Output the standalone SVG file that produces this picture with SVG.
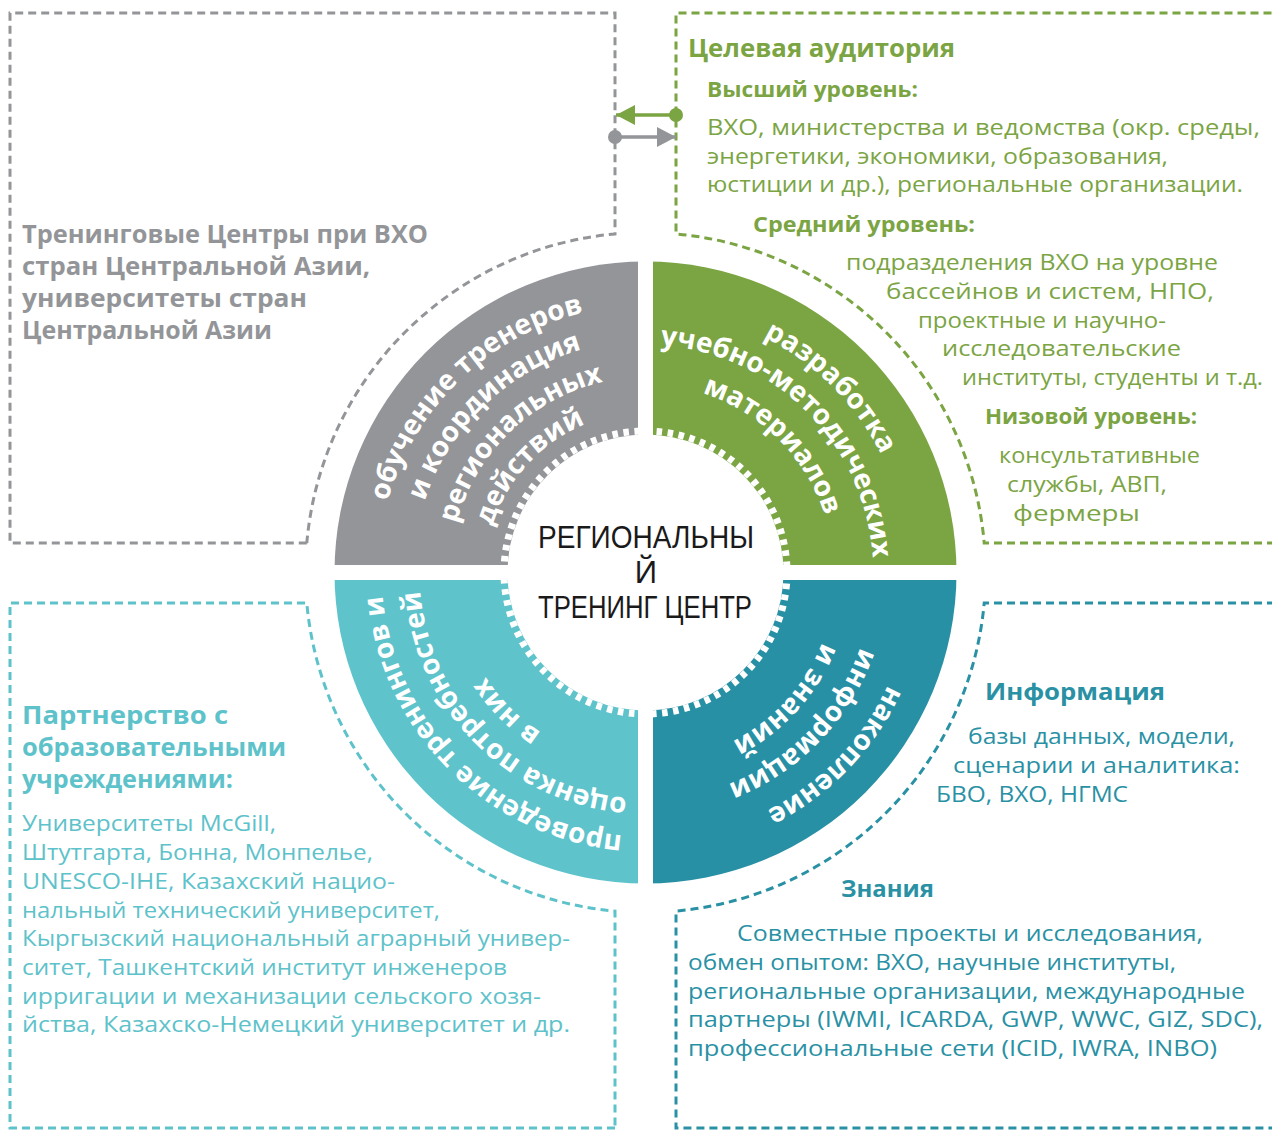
<svg xmlns="http://www.w3.org/2000/svg" xmlns:xlink="http://www.w3.org/1999/xlink" width="1272" height="1131" viewBox="0 0 1272 1131">
<style>
.box{fill:none;stroke-width:3;stroke-dasharray:8 5}
.g{fill:#939598}.gr{fill:#7ba443}.lt{fill:#5ec2ca}.dt{fill:#2a91a5}
.h{font-family:"Open Sans","Noto Sans",sans-serif;font-weight:700}
.b{font-family:"Open Sans","Noto Sans",sans-serif;font-weight:400;font-size:22px}
.q{font-family:"Open Sans","Noto Sans",sans-serif;font-weight:700;font-size:28px;fill:#fff}
.c{font-family:"Liberation Sans Narrow","Liberation Sans",sans-serif;font-size:31px;fill:#1a1a1a}
</style>
<defs>
<marker id="ahG" markerUnits="userSpaceOnUse" markerWidth="22" markerHeight="22" refX="19" refY="10" orient="auto"><path d="M0,0 L19,10 L0,20 Z" fill="#7ba443"/></marker>
<marker id="ahY" markerUnits="userSpaceOnUse" markerWidth="22" markerHeight="22" refX="19" refY="10" orient="auto"><path d="M0,0 L19,10 L0,20 Z" fill="#939598"/></marker>
<marker id="dotG" markerUnits="userSpaceOnUse" markerWidth="16" markerHeight="16" refX="8" refY="8"><circle cx="8" cy="8" r="7" fill="#7ba443"/></marker>
<marker id="dotY" markerUnits="userSpaceOnUse" markerWidth="16" markerHeight="16" refX="8" refY="8"><circle cx="8" cy="8" r="7" fill="#939598"/></marker>
<path id="g1" d="M452.72,758.67 A268,268 0 0 1 838.28,386.33"/>
<path id="g2" d="M478.61,733.66 A232,232 0 0 1 812.39,411.34"/>
<path id="g3" d="M504.51,708.65 A196,196 0 0 1 786.49,436.35"/>
<path id="g4" d="M530.41,683.65 A160,160 0 0 1 760.59,461.35"/>
<path id="n1" d="M458.12,385.12 A265,265 0 0 1 832.88,759.88"/>
<path id="n2" d="M484.28,411.28 A228,228 0 0 1 806.72,733.72"/>
<path id="n3" d="M512.56,439.56 A188,188 0 0 1 778.44,705.44"/>
<path id="l1" d="M832.88,759.88 A265,265 0 0 1 458.12,385.12"/>
<path id="l2" d="M805.31,732.31 A226,226 0 0 1 485.69,412.69"/>
<path id="l3" d="M780.56,707.56 A191,191 0 0 1 510.44,437.44"/>
<path id="d1" d="M831.67,379.72 A268,268 0 0 1 459.33,765.28"/>
<path id="d2" d="M803.88,408.49 A228,228 0 0 1 487.12,736.51"/>
<path id="d3" d="M777.49,435.83 A190,190 0 0 1 513.51,709.17"/>
</defs>

<g id="box-training-centers">
<path class="box" stroke="#939598" d="M306.8,543 L10,543 L10,13 L615,13 L615,233.9 A340,340 0 0 0 306.8,543"/>
<g class="h g" font-size="25">
<text x="22" y="243" textLength="406" lengthAdjust="spacingAndGlyphs">Тренинговые Центры при ВХО</text>
<text x="22" y="275" textLength="348" lengthAdjust="spacingAndGlyphs">стран Центральной Азии,</text>
<text x="22" y="307" textLength="285" lengthAdjust="spacingAndGlyphs">университеты стран</text>
<text x="22" y="339" textLength="250" lengthAdjust="spacingAndGlyphs">Центральной Азии</text>
</g>
</g>

<g id="box-target-audience">
<path class="box" stroke="#7ba443" d="M1275,543 L984.2,543 A340,340 0 0 0 676,233.9 L676,13 L1275,13"/>
<text class="h gr" font-size="25" x="688" y="57" textLength="267" lengthAdjust="spacingAndGlyphs">Целевая аудитория</text>
<g class="h gr" font-size="22">
<text x="707" y="97" textLength="211" lengthAdjust="spacingAndGlyphs">Высший уровень:</text>
<text x="753" y="232" textLength="222" lengthAdjust="spacingAndGlyphs">Средний уровень:</text>
<text x="985" y="424" textLength="212" lengthAdjust="spacingAndGlyphs">Низовой уровень:</text>
</g>
<g class="b gr">
<text x="707" y="135" textLength="553" lengthAdjust="spacingAndGlyphs">ВХО, министерства и ведомства (окр. среды,</text>
<text x="707" y="164" textLength="461" lengthAdjust="spacingAndGlyphs">энергетики, экономики, образования,</text>
<text x="707" y="192" textLength="536" lengthAdjust="spacingAndGlyphs">юстиции и др.), региональные организации.</text>
<text x="846" y="270" textLength="372" lengthAdjust="spacingAndGlyphs">подразделения ВХО на уровне</text>
<text x="886" y="299" textLength="328" lengthAdjust="spacingAndGlyphs">бассейнов и систем, НПО,</text>
<text x="918" y="328" textLength="248" lengthAdjust="spacingAndGlyphs">проектные и научно-</text>
<text x="942" y="356" textLength="239" lengthAdjust="spacingAndGlyphs">исследовательские</text>
<text x="962" y="385" textLength="301" lengthAdjust="spacingAndGlyphs">институты, студенты и т.д.</text>
<text x="999" y="463" textLength="201" lengthAdjust="spacingAndGlyphs">консультативные</text>
<text x="1007" y="492" textLength="160" lengthAdjust="spacingAndGlyphs">службы, АВП,</text>
<text x="1013" y="521" textLength="127" lengthAdjust="spacingAndGlyphs">фермеры</text>
</g>
</g>

<g id="box-partnership">
<path class="box" stroke="#5ec2ca" d="M615,1128 L10,1128 L10,603 L306.8,603 A340,340 0 0 0 615,911.1 L615,1128"/>
<g class="h lt" font-size="25">
<text x="22" y="724" textLength="206" lengthAdjust="spacingAndGlyphs">Партнерство с</text>
<text x="22" y="756" textLength="264" lengthAdjust="spacingAndGlyphs">образовательными</text>
<text x="22" y="788" textLength="211" lengthAdjust="spacingAndGlyphs">учреждениями:</text>
</g>
<g class="b lt">
<text x="22" y="831" textLength="254" lengthAdjust="spacingAndGlyphs">Университеты McGill,</text>
<text x="22" y="860" textLength="351" lengthAdjust="spacingAndGlyphs">Штутгарта, Бонна, Монпелье,</text>
<text x="22" y="889" textLength="373" lengthAdjust="spacingAndGlyphs">UNESCO-IHE, Казахский нацио-</text>
<text x="22" y="918" textLength="418" lengthAdjust="spacingAndGlyphs">нальный технический университет,</text>
<text x="22" y="946" textLength="548" lengthAdjust="spacingAndGlyphs">Кыргызский национальный аграрный универ-</text>
<text x="22" y="975" textLength="485" lengthAdjust="spacingAndGlyphs">ситет, Ташкентский институт инженеров</text>
<text x="22" y="1004" textLength="519" lengthAdjust="spacingAndGlyphs">ирригации и механизации сельского хозя-</text>
<text x="22" y="1032" textLength="548" lengthAdjust="spacingAndGlyphs">йства, Казахско-Немецкий университет и др.</text>
</g>
</g>

<g id="box-information">
<path class="box" stroke="#2a91a5" d="M1275,603 L984.2,603 A340,340 0 0 1 676,911.1 L676,1128 L1275,1128"/>
<g class="h dt" font-size="24">
<text x="985" y="700" textLength="180" lengthAdjust="spacingAndGlyphs">Информация</text>
<text x="841" y="897" textLength="93" lengthAdjust="spacingAndGlyphs">Знания</text>
</g>
<g class="b dt">
<text x="968" y="744" textLength="267" lengthAdjust="spacingAndGlyphs">базы данных, модели,</text>
<text x="953" y="773" textLength="287" lengthAdjust="spacingAndGlyphs">сценарии и аналитика:</text>
<text x="936" y="802" textLength="192" lengthAdjust="spacingAndGlyphs">БВО, ВХО, НГМС</text>
<text x="737" y="941" textLength="466" lengthAdjust="spacingAndGlyphs">Совместные проекты и исследования,</text>
<text x="688" y="970" textLength="488" lengthAdjust="spacingAndGlyphs">обмен опытом: ВХО, научные институты,</text>
<text x="688" y="999" textLength="557" lengthAdjust="spacingAndGlyphs">региональные организации, международные</text>
<text x="688" y="1027" textLength="575" lengthAdjust="spacingAndGlyphs">партнеры (IWMI, ICARDA, GWP, WWC, GIZ, SDC),</text>
<text x="688" y="1056" textLength="529" lengthAdjust="spacingAndGlyphs">профессиональные сети (ICID, IWRA, INBO)</text>
</g>
</g>

<g id="q-training">
<path fill="#939598" d="M645.5,572.5 L334.5,572.5 A311,311 0 0 1 645.5,261.5 Z"/>
<text class="q"><textPath xlink:href="#g1" href="#g1" startOffset="50%" text-anchor="middle">обучение тренеров</textPath></text>
<text class="q"><textPath xlink:href="#g2" href="#g2" startOffset="50%" text-anchor="middle">и координация</textPath></text>
<text class="q"><textPath xlink:href="#g3" href="#g3" startOffset="50%" text-anchor="middle">региональных</textPath></text>
<text class="q"><textPath xlink:href="#g4" href="#g4" startOffset="48%" text-anchor="middle">действий</textPath></text>
</g>

<g id="q-materials">
<path fill="#7ba443" d="M645.5,572.5 L645.5,261.5 A311,311 0 0 1 956.5,572.5 Z"/>
<text class="q"><textPath xlink:href="#n1" href="#n1" startOffset="50%" text-anchor="middle">разработка</textPath></text>
<text class="q"><textPath xlink:href="#n2" href="#n2" startOffset="50%" text-anchor="middle">учебно-методических</textPath></text>
<text class="q"><textPath xlink:href="#n3" href="#n3" startOffset="50%" text-anchor="middle">материалов</textPath></text>
</g>

<g id="q-knowledge">
<path fill="#2890a5" d="M645.5,572.5 L956.5,572.5 A311,311 0 0 1 645.5,883.5 Z"/>
<text class="q"><textPath xlink:href="#d1" href="#d1" startOffset="50%" text-anchor="middle">накопление</textPath></text>
<text class="q"><textPath xlink:href="#d2" href="#d2" startOffset="50%" text-anchor="middle">информации</textPath></text>
<text class="q"><textPath xlink:href="#d3" href="#d3" startOffset="49%" text-anchor="middle">и знаний</textPath></text>
</g>

<g id="q-trainings">
<path fill="#5ec3cb" d="M645.5,572.5 L645.5,883.5 A311,311 0 0 1 334.5,572.5 Z"/>
<text class="q"><textPath xlink:href="#l1" href="#l1" startOffset="50%" text-anchor="middle">проведение тренингов и</textPath></text>
<text class="q"><textPath xlink:href="#l2" href="#l2" startOffset="50%" text-anchor="middle">оценка потребностей</textPath></text>
<text class="q"><textPath xlink:href="#l3" href="#l3" startOffset="50%" text-anchor="middle">в них</textPath></text>
</g>

<g id="separators" fill="#fff">
<rect x="638" y="250" width="15" height="646"/>
<rect x="322" y="565" width="647" height="15"/>
</g>

<g id="center">
<circle cx="645.5" cy="572.5" r="138" fill="#fff"/>
<circle cx="645.5" cy="572.5" r="141.5" fill="none" stroke="#fff" stroke-width="7" stroke-dasharray="5.5 5.5" pathLength="880"/>
<text class="c" x="646" y="548" text-anchor="middle" textLength="216" lengthAdjust="spacingAndGlyphs">РЕГИОНАЛЬНЫ</text>
<text class="c" x="646" y="583" text-anchor="middle">Й</text>
<text class="c" x="645" y="618" text-anchor="middle" textLength="214" lengthAdjust="spacingAndGlyphs">ТРЕНИНГ ЦЕНТР</text>
</g>

<g id="connectors" stroke-width="3.5" fill="none">
<path d="M676,115 L616,115" stroke="#7ba443" marker-start="url(#dotG)" marker-end="url(#ahG)"/>
<path d="M615,137 L676,137" stroke="#939598" marker-start="url(#dotY)" marker-end="url(#ahY)"/>
</g>
</svg>
